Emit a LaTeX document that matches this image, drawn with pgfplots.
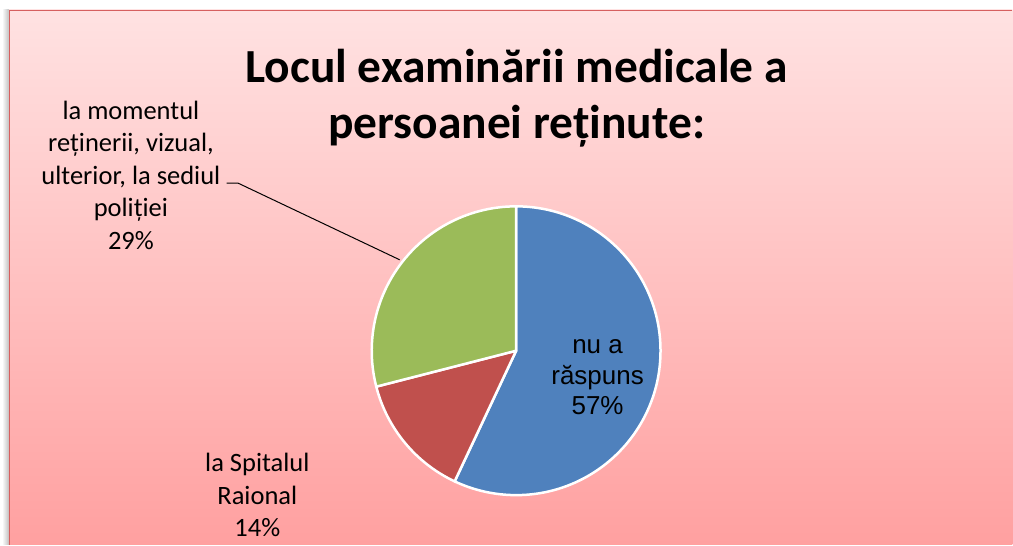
\documentclass[border=0pt]{standalone}
\usepackage{pgfplots}
\pgfplotsset{compat=1.18}
\usepackage{fontspec}
\setmainfont{Carlito}
\newfontfamily\arialf{Liberation Sans}
\definecolor{pieblue}{RGB}{79,129,189}
\definecolor{piered}{RGB}{192,80,77}
\definecolor{piegreen}{RGB}{155,187,89}
\definecolor{bgtop}{RGB}{255,226,226}
\definecolor{bgbot}{RGB}{255,160,160}
\definecolor{frame}{RGB}{214,96,96}
\begin{document}
\begin{tikzpicture}
\begin{axis}[hide axis, scale only axis, width=1013pt, height=545pt,
  xmin=0, xmax=1013, ymin=0, ymax=545, clip=false]
% full canvas
\fill[white] (axis cs:0,0) rectangle (axis cs:1013,545);
% background and frame
\shade[left color=white, right color=black!25] (axis cs:2,0) rectangle (axis cs:9,535);
\shade[top color=bgtop, bottom color=bgbot] (axis cs:9,0) rectangle (axis cs:1013,535);
\draw[frame, line width=1.5pt] (axis cs:9.5,0) -- (axis cs:9.5,534.5) -- (axis cs:1013,534.5);
% pie: values 57, 14, 29 (%), clockwise from the top
\fill[pieblue, draw=white, line width=2.5pt, line join=round]
  (axis cs:516.5,194) -- ++(90:144.5pt) arc[start angle=90, end angle={90-57*3.6}, radius=144.5pt] -- cycle;
\fill[piered, draw=white, line width=2.5pt, line join=round]
  (axis cs:516.5,194) -- ++({90-57*3.6}:144.5pt) arc[start angle={90-57*3.6}, end angle={90-(57+14)*3.6}, radius=144.5pt] -- cycle;
\fill[piegreen, draw=white, line width=2.5pt, line join=round]
  (axis cs:516.5,194) -- ++({90-(57+14)*3.6}:144.5pt) arc[start angle={90-(57+14)*3.6}, end angle={90-(57+14+29)*3.6}, radius=144.5pt] -- cycle;
% title (anchor at baseline of last line)
\node[anchor=base, align=center, inner sep=0pt, font=\fontsize{47.5}{56}\selectfont\bfseries]
  at (axis cs:517,406) {Locul examinării medicale a\\persoanei reținute:};
% labels
\node[anchor=base, align=center, inner sep=0pt, font=\fontsize{26.5}{32.5}\selectfont]
  at (axis cs:131,295.7) {la momentul\\reținerii, vizual,\\ulterior, la sediul\\poliției\\29\%};
\node[anchor=base, align=center, inner sep=0pt, font=\fontsize{26.5}{32.8}\selectfont]
  at (axis cs:257.5,7.7) {la Spitalul\\Raional\\14\%};
\node[anchor=base, align=center, inner sep=0pt, font=\arialf\fontsize{26}{30.5}\selectfont]
  at (axis cs:598,130) {nu a\\răspuns\\57\%};
% leader line
\draw[black, line width=1pt] (axis cs:226.7,361.7) -- (axis cs:238.3,361.7) -- (axis cs:400,285);
\end{axis}
\end{tikzpicture}
\end{document}
